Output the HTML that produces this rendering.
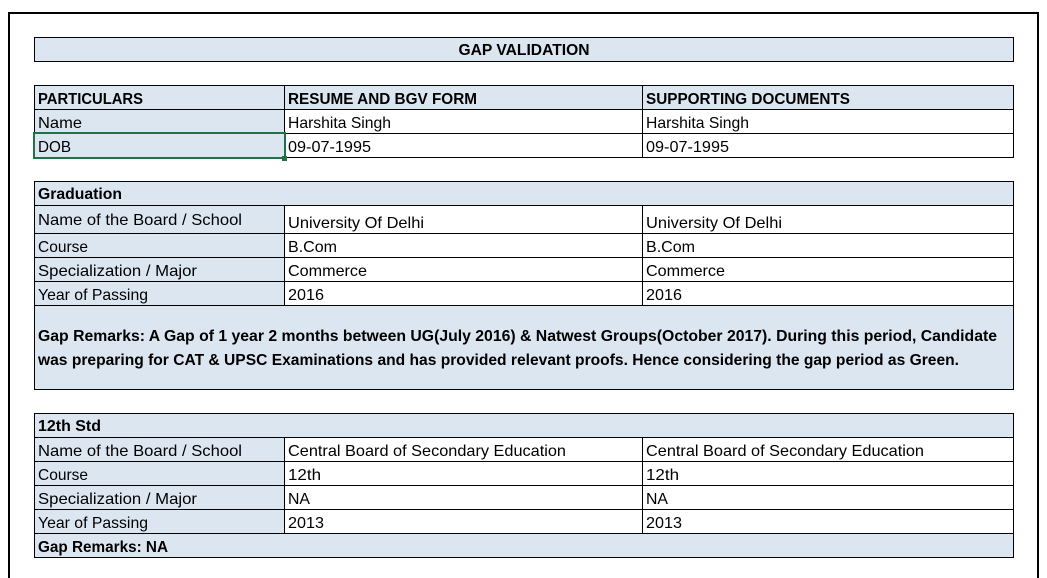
<!DOCTYPE html>
<html><head><meta charset="utf-8"><style>
html,body{margin:0;padding:0;background:#fff;}
svg{display:block;}
text{font-family:"Liberation Sans",sans-serif;font-size:16px;fill:#000;}
.b{font-weight:bold;}
</style></head><body>
<svg width="1047" height="578" viewBox="0 0 1047 578" xmlns="http://www.w3.org/2000/svg">
<rect x="9" y="13" width="1029" height="580" fill="none" stroke="#000" stroke-width="2"/>
<g stroke="#000" stroke-width="1">
<rect x="34.5" y="37.5" width="979" height="24" fill="#dce6f1"/>
<rect x="34.5" y="85.5" width="979" height="24" fill="#dce6f1"/>
<rect x="34.5" y="109.5" width="250" height="48" fill="#dce6f1"/>
<rect x="284.5" y="109.5" width="729" height="48" fill="#fff"/>
<line x1="34" y1="133.5" x2="1014" y2="133.5"/>
<line x1="284.5" y1="85" x2="284.5" y2="158"/>
<line x1="642.5" y1="85" x2="642.5" y2="158"/>
<rect x="34.5" y="181.5" width="979" height="24" fill="#dce6f1"/>
<rect x="34.5" y="205.5" width="250" height="100" fill="#dce6f1"/>
<rect x="284.5" y="205.5" width="729" height="100" fill="#fff"/>
<line x1="34" y1="233.5" x2="1014" y2="233.5"/>
<line x1="34" y1="257.5" x2="1014" y2="257.5"/>
<line x1="34" y1="281.5" x2="1014" y2="281.5"/>
<line x1="642.5" y1="205" x2="642.5" y2="306"/>
<rect x="34.5" y="305.5" width="979" height="84" fill="#dce6f1"/>
<rect x="34.5" y="413.5" width="979" height="24" fill="#dce6f1"/>
<rect x="34.5" y="437.5" width="250" height="96" fill="#dce6f1"/>
<rect x="284.5" y="437.5" width="729" height="96" fill="#fff"/>
<line x1="34" y1="461.5" x2="1014" y2="461.5"/>
<line x1="34" y1="485.5" x2="1014" y2="485.5"/>
<line x1="34" y1="509.5" x2="1014" y2="509.5"/>
<line x1="642.5" y1="437" x2="642.5" y2="534"/>
<rect x="34.5" y="533.5" width="979" height="24" fill="#dce6f1"/>
</g>
<rect x="34" y="133" width="251" height="25" fill="none" stroke="#217346" stroke-width="2"/>
<rect x="282" y="156" width="5" height="5" fill="#217346"/>

<text class="b" x="524" y="55" text-anchor="middle" textLength="131" lengthAdjust="spacingAndGlyphs">GAP VALIDATION</text>
<text class="b" x="38" y="104" textLength="105" lengthAdjust="spacingAndGlyphs">PARTICULARS</text>
<text class="b" x="288" y="104" textLength="189" lengthAdjust="spacingAndGlyphs">RESUME AND BGV FORM</text>
<text class="b" x="646" y="104" textLength="204" lengthAdjust="spacingAndGlyphs">SUPPORTING DOCUMENTS</text>
<text x="38" y="128" textLength="44" lengthAdjust="spacingAndGlyphs">Name</text>
<text x="288" y="128" textLength="103" lengthAdjust="spacingAndGlyphs">Harshita Singh</text>
<text x="646" y="128" textLength="103" lengthAdjust="spacingAndGlyphs">Harshita Singh</text>
<text x="38" y="152" textLength="33" lengthAdjust="spacingAndGlyphs">DOB</text>
<text x="288" y="152" textLength="83" lengthAdjust="spacingAndGlyphs">09-07-1995</text>
<text x="646" y="152" textLength="83" lengthAdjust="spacingAndGlyphs">09-07-1995</text>

<text class="b" x="38" y="199" textLength="84" lengthAdjust="spacingAndGlyphs">Graduation</text>
<text x="38" y="225" textLength="204" lengthAdjust="spacingAndGlyphs">Name of the Board / School</text>
<text x="288" y="228" textLength="136" lengthAdjust="spacingAndGlyphs">University Of Delhi</text>
<text x="646" y="228" textLength="136" lengthAdjust="spacingAndGlyphs">University Of Delhi</text>
<text x="38" y="252" textLength="50" lengthAdjust="spacingAndGlyphs">Course</text>
<text x="288" y="252" textLength="49" lengthAdjust="spacingAndGlyphs">B.Com</text>
<text x="646" y="252" textLength="49" lengthAdjust="spacingAndGlyphs">B.Com</text>
<text x="38" y="276" textLength="159" lengthAdjust="spacingAndGlyphs">Specialization / Major</text>
<text x="288" y="276" textLength="79" lengthAdjust="spacingAndGlyphs">Commerce</text>
<text x="646" y="276" textLength="79" lengthAdjust="spacingAndGlyphs">Commerce</text>
<text x="38" y="300" textLength="110" lengthAdjust="spacingAndGlyphs">Year of Passing</text>
<text x="288" y="300" textLength="36" lengthAdjust="spacingAndGlyphs">2016</text>
<text x="646" y="300" textLength="36" lengthAdjust="spacingAndGlyphs">2016</text>
<text class="b" x="38" y="341" textLength="959" lengthAdjust="spacingAndGlyphs">Gap Remarks: A Gap of 1 year 2 months between UG(July 2016) &amp; Natwest Groups(October 2017). During this period, Candidate</text>
<text class="b" x="38" y="365" textLength="921" lengthAdjust="spacingAndGlyphs">was preparing for CAT &amp; UPSC Examinations and has provided relevant proofs. Hence considering the gap period as Green.</text>

<text class="b" x="38" y="431" textLength="63" lengthAdjust="spacingAndGlyphs">12th Std</text>
<text x="38" y="456" textLength="204" lengthAdjust="spacingAndGlyphs">Name of the Board / School</text>
<text x="288" y="456" textLength="278" lengthAdjust="spacingAndGlyphs">Central Board of Secondary Education</text>
<text x="646" y="456" textLength="278" lengthAdjust="spacingAndGlyphs">Central Board of Secondary Education</text>
<text x="38" y="480" textLength="50" lengthAdjust="spacingAndGlyphs">Course</text>
<text x="288" y="480" textLength="33" lengthAdjust="spacingAndGlyphs">12th</text>
<text x="646" y="480" textLength="33" lengthAdjust="spacingAndGlyphs">12th</text>
<text x="38" y="504" textLength="159" lengthAdjust="spacingAndGlyphs">Specialization / Major</text>
<text x="288" y="504" textLength="22" lengthAdjust="spacingAndGlyphs">NA</text>
<text x="646" y="504" textLength="22" lengthAdjust="spacingAndGlyphs">NA</text>
<text x="38" y="528" textLength="110" lengthAdjust="spacingAndGlyphs">Year of Passing</text>
<text x="288" y="528" textLength="36" lengthAdjust="spacingAndGlyphs">2013</text>
<text x="646" y="528" textLength="36" lengthAdjust="spacingAndGlyphs">2013</text>
<text class="b" x="38" y="552" textLength="130" lengthAdjust="spacingAndGlyphs">Gap Remarks: NA</text>
</svg>
</body></html>
